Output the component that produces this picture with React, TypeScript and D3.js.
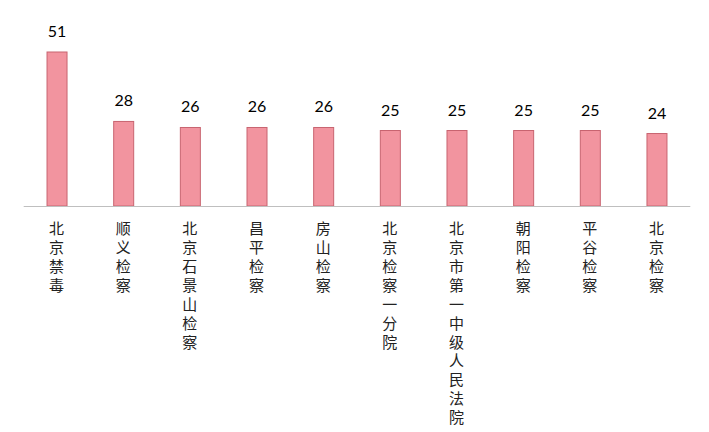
import { useEffect, useRef } from 'react'
import * as d3 from 'd3'

const categories = [
  '北京禁毒',
  '顺义检察',
  '北京石景山检察',
  '昌平检察',
  '房山检察',
  '北京检察一分院',
  '北京市第一中级人民法院',
  '朝阳检察',
  '平谷检察',
  '北京检察',
]
const values = [51, 28, 26, 26, 26, 25, 25, 25, 25, 24]

export default function App() {
  const svgRef = useRef<SVGSVGElement>(null)

  useEffect(() => {
    const svg = svgRef.current
    if (!svg) return
    document.body.style.margin = '0'

    const width = 709
    const height = 432
    const baseY = 206

    d3.select(svg).selectAll('*').remove()
    const root = d3.select(svg).attr('width', width).attr('height', height)

    // ── Scales ────────────────────────────────────────────────────
    const x = d3
      .scaleBand<string>()
      .domain(categories)
      .range([23.7, 690.3])
      .paddingInner(0.7)
      .paddingOuter(0.35)
    const y = d3.scaleLinear().domain([0, 51]).range([baseY, 52])

    // ── Bars ──────────────────────────────────────────────────────
    root
      .append('g')
      .selectAll('rect')
      .data(values)
      .join('rect')
      .attr('x', (_, i) => x(categories[i])!)
      .attr('y', (d) => y(d))
      .attr('width', x.bandwidth())
      .attr('height', (d) => baseY - y(d))
      .attr('fill', '#f2949f')
      .attr('stroke', '#c86470')
      .attr('stroke-width', 1)

    // ── Baseline ──────────────────────────────────────────────────
    root
      .append('line')
      .attr('x1', x.range()[0])
      .attr('x2', x.range()[1])
      .attr('y1', baseY + 0.5)
      .attr('y2', baseY + 0.5)
      .attr('stroke', '#bfbfbf')
      .attr('stroke-width', 1)

    // ── Value labels ──────────────────────────────────────────────
    root
      .append('g')
      .selectAll('text')
      .data(values)
      .join('text')
      .attr('x', (_, i) => x(categories[i])! + x.bandwidth() / 2)
      .attr('y', (d) => y(d) - 15)
      .attr('text-anchor', 'middle')
      .attr('font-family', 'Lato, "Open Sans", sans-serif')
      .attr('font-size', '16px')
      .attr('fill', '#000')
      .text((d) => String(d))

    // ── Category labels (vertical) ───────────────────────────────
    root
      .append('g')
      .selectAll('text')
      .data(categories)
      .join('text')
      .attr('x', (d) => x(d)! + x.bandwidth() / 2 - 0.5)
      .attr('y', 221)
      .attr('text-anchor', 'start')
      .style('writing-mode', 'vertical-rl')
      .style('text-orientation', 'upright')
      .attr('letter-spacing', '3.9px')
      .attr('font-family', '"Noto Sans CJK SC", sans-serif')
      .attr('font-size', '15px')
      .attr('fill', '#222')
      .text((d) => d)
  }, [])

  return (
    <div style={{ position: 'fixed', left: 0, top: 0, background: '#fff' }}>
      <svg ref={svgRef} />
    </div>
  )
}
